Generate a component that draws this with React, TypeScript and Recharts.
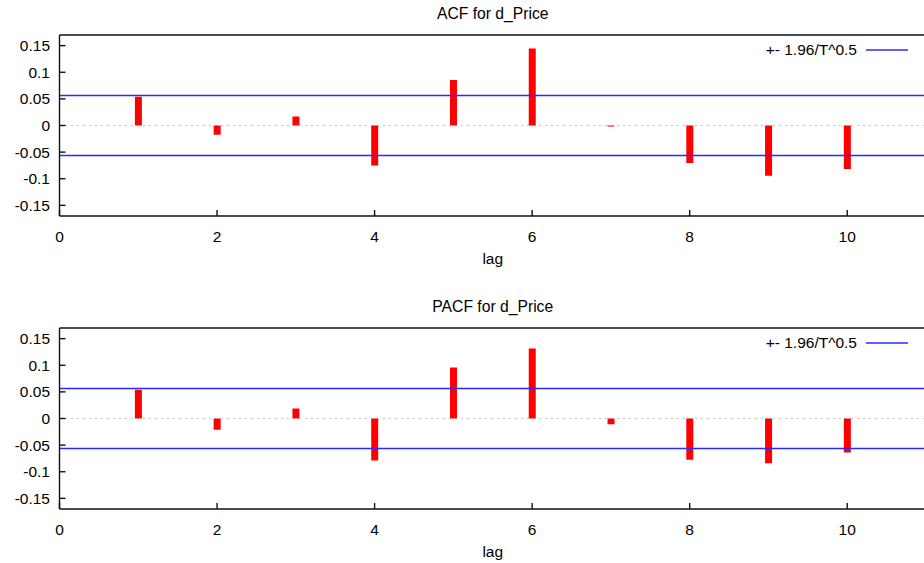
import React from "react";
import {
  ComposedChart,
  Bar,
  XAxis,
  YAxis,
  ReferenceLine,
  Legend,
  Label,
} from "recharts";

const lags = [1, 2, 3, 4, 5, 6, 7, 8, 9, 10];
const acfValues = [0.054, -0.0175, 0.017, -0.075, 0.0857, 0.1445, -0.002, -0.0706, -0.0944, -0.0818];
const pacfValues = [0.054, -0.021, 0.019, -0.0788, 0.0957, 0.1313, -0.0107, -0.0775, -0.084, -0.064];
const bound = 0.0563; // 1.96 / sqrt(T)
const xTicks = [0, 2, 4, 6, 8, 10];
const yTicks = [-0.15, -0.1, -0.05, 0, 0.05, 0.1, 0.15];

const FONT = "'Liberation Sans', Arial, Helvetica, sans-serif";
const tickStyle = { fontSize: 15.5, fill: "#000", fontFamily: FONT };
const frame = { stroke: "#111", strokeWidth: 1.4 };

function BoundLegend() {
  return (
    <div style={{ position: "relative", width: 930, height: 70, fontFamily: FONT }}>
      <span
        style={{
          position: "absolute",
          right: 930 - 857,
          top: 41,
          fontSize: 15.5,
          lineHeight: "18px",
          color: "#000",
          whiteSpace: "nowrap",
        }}
      >
        +- 1.96/T^0.5
      </span>
      <svg style={{ position: "absolute", left: 866, top: 45 }} width={44} height={10}>
        <line x1={0} y1={5} x2={42} y2={5} stroke="#2a2aff" strokeWidth={1.5} />
      </svg>
    </div>
  );
}

function Panel({ title, values }: { title: string; values: number[] }) {
  const data = lags.map((lag, i) => ({ lag, value: values[i] }));
  return (
    <div style={{ position: "relative", width: 930, height: 293 }}>
      <div
        style={{
          position: "absolute",
          left: 59.5,
          width: 866.5,
          top: 4.6,
          textAlign: "center",
          fontFamily: FONT,
          fontSize: 15.7,
          lineHeight: "18px",
          color: "#000",
        }}
      >
        {title}
      </div>
      <ComposedChart
        width={930}
        height={293}
        data={data}
        margin={{ top: 34, right: 3, bottom: 0, left: 0 }}
      >
        <XAxis
          dataKey="lag"
          type="number"
          domain={[0, 11]}
          ticks={xTicks}
          allowDataOverflow
          tick={tickStyle}
          tickSize={-6}
          tickMargin={21}
          height={77}
          axisLine={frame}
          tickLine={frame}
        >
          <Label value="lag" position="insideTop" offset={37} style={tickStyle} />
        </XAxis>
        <XAxis
          xAxisId="top"
          orientation="top"
          type="number"
          domain={[0, 11]}
          ticks={[2, 4, 6, 8, 10]}
          allowDataOverflow
          tick={false}
          tickSize={-6}
          height={1}
          axisLine={frame}
          tickLine={frame}
        />
        <YAxis
          type="number"
          domain={[-0.17, 0.17]}
          ticks={yTicks}
          allowDataOverflow
          tick={tickStyle}
          tickSize={-6}
          tickMargin={15.5}
          width={59.5}
          axisLine={frame}
          tickLine={frame}
        />
        <YAxis
          yAxisId="right"
          orientation="right"
          type="number"
          domain={[-0.17, 0.17]}
          ticks={yTicks}
          allowDataOverflow
          tick={false}
          tickSize={-6}
          width={1}
          axisLine={frame}
          tickLine={frame}
        />
        <ReferenceLine y={0} stroke="#888" strokeDasharray="1 5" strokeWidth={1.2} />
        <ReferenceLine y={bound} stroke="#2a2aff" strokeWidth={1.5} />
        <ReferenceLine y={-bound} stroke="#2a2aff" strokeWidth={1.5} />
        <Bar dataKey="value" fill="#ff0000" barSize={7} isAnimationActive={false} />
        <Legend
          layout="horizontal"
          verticalAlign="middle"
          content={() => <BoundLegend />}
          wrapperStyle={{ left: 0, top: 0, width: 930, height: 70 }}
        />
      </ComposedChart>
    </div>
  );
}

export default function App() {
  return (
    <div
      style={{
        position: "absolute",
        left: 0,
        top: 0,
        width: 924,
        height: 563,
        overflow: "hidden",
        background: "#fff",
      }}
    >
      <Panel title="ACF for d_Price" values={acfValues} />
      <Panel title="PACF for d_Price" values={pacfValues} />
    </div>
  );
}
